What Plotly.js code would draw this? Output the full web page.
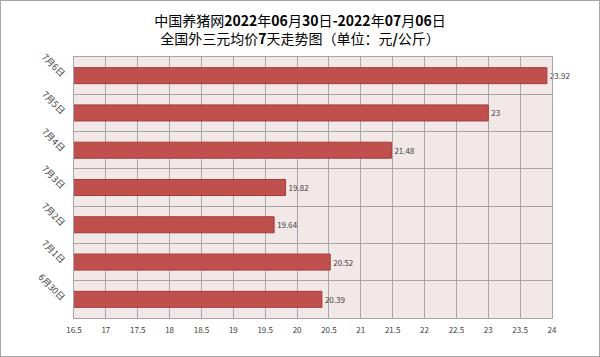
<!DOCTYPE html>
<html>
<head>
<meta charset="utf-8">
<script src="https://cdn.plot.ly/plotly-3.0.1.min.js"></script>
<style>
  html, body { margin: 0; padding: 0; background: #ffffff; }
  #wrap { position: relative; width: 600px; height: 357px; }
  #chart { width: 600px; height: 357px; }
  #frame { position: absolute; left: 0; top: 0; width: 600px; height: 357px; box-sizing: border-box; border: 1.5px solid #a6a6a6; pointer-events: none; }
</style>
</head>
<body>
<div id="wrap">
  <div id="chart"></div>
  <div id="frame"></div>
</div>
<script>
// Data (bottom to top)
const categories = ["6月30日", "7月1日", "7月2日", "7月3日", "7月4日", "7月5日", "7月6日"];
const prices = [20.39, 20.52, 19.64, 19.82, 21.48, 23, 23.92];
const priceLabels = ["20.39", "20.52", "19.64", "19.82", "21.48", "23", "23.92"];
const xTickValues = [16.5, 17, 17.5, 18, 18.5, 19, 19.5, 20, 20.5, 21, 21.5, 22, 22.5, 23, 23.5, 24];
const titleLines = ["中国养猪网2022年06月30日-2022年07月06日", "全国外三元均价7天走势图（单位：元/公斤）"];

const fontFam = '"Noto Sans CJK SC", "Noto Sans", sans-serif';
// digits (and the hyphen / slash) render bold in the original title
const boldDigits = s => s.replace(/([0-9\-\/]+)/g, '<b>$1</b>');

const trace = {
  type: 'bar',
  orientation: 'h',
  y: categories,
  x: prices,
  text: priceLabels,
  textposition: 'outside',
  cliponaxis: false,
  textfont: { family: fontFam, size: 8, color: '#404040' },
  marker: { color: '#C0504D', line: { color: '#A33C39', width: 1 } },
  hoverinfo: 'skip'
};

const layout = {
  width: 600,
  height: 357,
  margin: { l: 74, r: 48, t: 57, b: 39, pad: 0 },
  paper_bgcolor: '#ffffff',
  plot_bgcolor: '#F2E8E8',
  showlegend: false,
  bargap: 0.57,
  title: {
    text: titleLines.map(boldDigits).join('<br>'),
    x: 0.5,
    xanchor: 'center',
    y: 1 - 25.5 / 357,
    yanchor: 'middle',
    font: { family: fontFam, size: 14, color: '#000000' }
  },
  xaxis: {
    range: [16.5, 24],
    tickvals: xTickValues,
    ticktext: xTickValues.map(String),
    showgrid: true,
    gridcolor: '#A6A6A6',
    gridwidth: 1,
    zeroline: false,
    showline: true,
    mirror: true,
    linecolor: '#A6A6A6',
    linewidth: 1,
    ticks: '',
    ticklabelstandoff: 4,
    tickfont: { family: fontFam, size: 8, color: '#404040' },
    fixedrange: true
  },
  yaxis: {
    type: 'category',
    categoryorder: 'array',
    categoryarray: categories,
    tickson: 'boundaries',
    showgrid: true,
    gridcolor: '#A6A6A6',
    gridwidth: 1,
    showline: true,
    mirror: true,
    linecolor: '#A6A6A6',
    linewidth: 1,
    ticks: '',
    tickangle: 45,
    ticklabelstandoff: 7,
    tickfont: { family: fontFam, size: 9, color: '#404040' },
    fixedrange: true
  }
};

Plotly.newPlot('chart', [trace], layout, { displayModeBar: false, staticPlot: true });
</script>
</body>
</html>
